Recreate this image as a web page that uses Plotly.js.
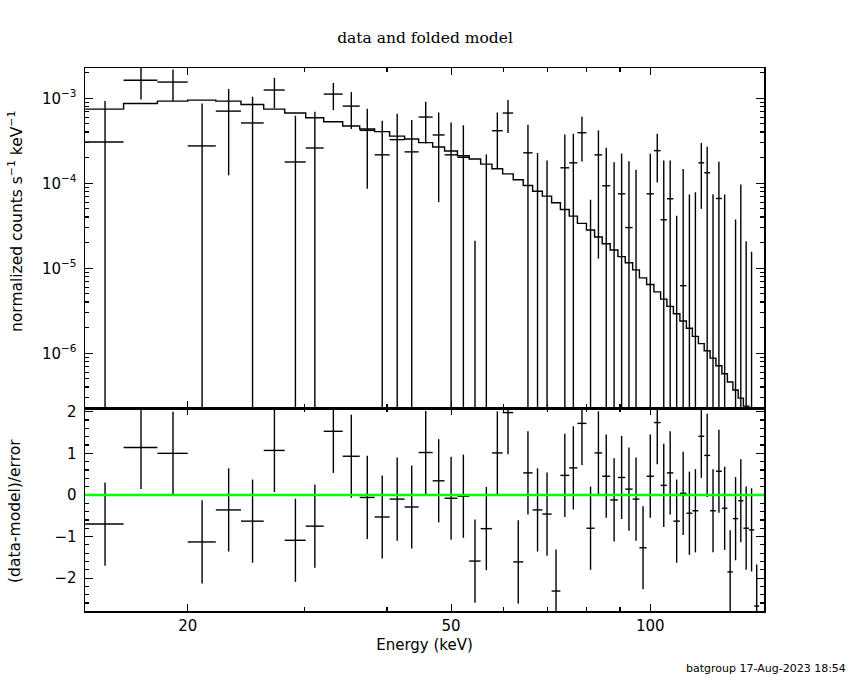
<!DOCTYPE html>
<html>
<head>
<meta charset="utf-8">
<script src="https://cdn.plot.ly/plotly-3.0.1.min.js"></script>
<style>
  body { margin: 0; background: #fff; }
  #plot { width: 850px; height: 680px; }
</style>
</head>
<body>
<div id="plot"></div>
<script>
// channel bin edges (keV)
const binEdges = [14.0, 16.0, 18.0, 20.0, 22.05, 24.07, 26.05, 28.03, 30.15, 32.1,
  34.29, 36.38, 38.32, 40.37, 42.53, 44.66, 46.89, 48.88, 51.11, 53.25,
  55.41, 57.63, 59.82, 62.06, 64.26, 66.39, 68.69, 70.93, 73.13, 75.41,
  77.59, 80.06, 82.37, 84.58, 86.97, 89.34, 91.64, 94.02, 96.27, 98.71,
  101.25, 103.63, 105.93, 108.35, 110.83, 113.36, 115.75, 118.2, 120.61, 123.11,
  125.62, 128.26, 130.74, 133.27, 135.75, 138.23, 140.9, 143.52, 146.04];

// normalized counts s^-1 keV^-1
const rate = [3.06e-4, 1.63e-3, 1.55e-3, 2.75e-4, 7.06e-4, 5.12e-4, 1.25e-3, 1.78e-4, 2.60e-4, 1.12e-3,
  8.09e-4, 4.19e-4, 2.16e-4, 3.26e-4, 2.34e-4, 6.01e-4, 3.70e-4, 2.16e-4, 2.02e-4, -2.70e-4,
  -3.95e-5, 4.15e-4, 6.70e-4, -2.91e-4, 2.28e-4, -1.6e-6, -2.70e-5, -4.21e-4, 1.52e-4, 1.74e-4,
  3.93e-4, -1.18e-4, 2.16e-4, 9.34e-5, -5.4e-6, 7.51e-5, 3.01e-5, -5.4e-6, -1.77e-4, 7.51e-5,
  2.42e-4, 3.72e-5, 6.57e-5, -6.24e-5, 6.24e-6, -5.41e-5, -4.58e-5, 1.74e-4, 1.33e-4, -4.37e-5,
  6.62e-5, -3.43e-5, -1.92e-4, -4.99e-5, -1.56e-5, -8.32e-5, -8.22e-5, -2.78e-4];

const rateErr = [6.24e-4, 6.66e-4, 6.24e-4, 5.93e-4, 5.82e-4, 5.30e-4, 4.89e-4, 4.45e-4, 4.34e-4, 3.95e-4,
  3.74e-4, 3.33e-4, 3.29e-4, 3.32e-4, 3.22e-4, 3.07e-4, 3.10e-4, 3.02e-4, 2.78e-4, 2.91e-4,
  2.57e-4, 2.65e-4, 2.81e-4, 2.50e-4, 2.60e-4, 2.29e-4, 2.12e-4, 2.08e-4, 2.22e-4, 2.08e-4,
  2.13e-4, 1.82e-4, 2.03e-4, 1.68e-4, 1.82e-4, 1.49e-4, 1.52e-4, 1.50e-4, 1.46e-4, 1.47e-4,
  1.40e-4, 1.48e-4, 1.20e-4, 1.04e-4, 1.41e-4, 1.28e-4, 1.24e-4, 1.24e-4, 1.36e-4, 1.18e-4,
  1.13e-4, 1.08e-4, 1.04e-4, 8.74e-5, 1.12e-4, 1.04e-4, 9.78e-5, 1.04e-4];

// folded model
const model = [7.46e-4, 8.68e-4, 9.26e-4, 9.52e-4, 9.26e-4, 8.44e-4, 7.46e-4, 6.70e-4, 5.91e-4, 5.29e-4,
  4.71e-4, 4.35e-4, 4.05e-4, 3.59e-4, 3.32e-4, 3.01e-4, 2.67e-4, 2.40e-4, 2.11e-4, 1.93e-4,
  1.68e-4, 1.48e-4, 1.29e-4, 1.10e-4, 9.42e-5, 8.07e-5, 7.05e-5, 5.91e-5, 4.92e-5, 4.11e-5,
  3.37e-5, 2.82e-5, 2.33e-5, 1.94e-5, 1.64e-5, 1.37e-5, 1.16e-5, 9.57e-6, 7.71e-6, 6.45e-6,
  5.28e-6, 4.34e-6, 3.56e-6, 2.92e-6, 2.40e-6, 1.97e-6, 1.58e-6, 1.30e-6, 1.07e-6, 8.76e-7,
  7.12e-7, 5.74e-7, 4.59e-7, 3.69e-7, 2.97e-7, 2.39e-7, 1.92e-7, 1.56e-7];

// (data-model)/error
const resid = [-0.70, 1.14, 1.00, -1.13, -0.36, -0.63, 1.07, -1.09, -0.75, 1.53,
  0.93, -0.06, -0.53, -0.10, -0.29, 1.02, 0.34, -0.08, -0.03, -1.59,
  -0.81, 1.01, 1.98, -1.61, 0.53, -0.36, -0.46, -2.31, 0.47, 0.65,
  1.72, -0.80, 1.01, 0.45, -0.12, 0.42, 0.14, -0.10, -1.27, 0.45,
  1.74, 0.23, 0.53, -0.63, 0.04, -0.44, -0.38, 1.41, 0.95, -0.38,
  0.57, -0.32, -1.85, -0.57, -0.14, -0.80, -0.84, -2.67];

const xTickVals = [20, 50, 100];
const xTickText = ['20', '50', '100'];
const xMinorVals = [30, 40, 60, 70, 80, 90];
const yTickVals = [1e-6, 1e-5, 1e-4, 1e-3];
const yTickText = ['10<sup>\u22126</sup>', '10<sup>\u22125</sup>', '10<sup>\u22124</sup>', '10<sup>\u22123</sup>'];
const residTickVals = [-2, -1, 0, 1, 2];
const residTickText = ['\u22122', '\u22121', '0', '1', '2'];

// minor log ticks 2..9 per decade
const yMinorVals = [];
for (let k = -7; k <= -3; k++) {
  for (let m = 2; m <= 9; m++) yMinorVals.push(m * Math.pow(10, k));
}

// crosses and step histogram as line segments
const LOW = 1e-12;
const dx = [], dy = [], rx = [], ry = [], mx = [], my = [];
for (let i = 0; i < rate.length; i++) {
  const lo = binEdges[i], hi = binEdges[i + 1], mid = (lo + hi) / 2;
  if (rate[i] > 0) { dx.push(lo, hi, null); dy.push(rate[i], rate[i], null); }
  const top = rate[i] + rateErr[i];
  if (top > 0) {
    dx.push(mid, mid, null);
    dy.push(Math.max(rate[i] - rateErr[i], LOW), top, null);
  }
  rx.push(lo, hi, null, mid, mid, null);
  ry.push(resid[i], resid[i], null, resid[i] - 1, resid[i] + 1, null);
  mx.push(lo, hi);
  my.push(model[i], model[i]);
}

const lineStyle = { color: '#000', width: 1.4 };
const traces = [
  { x: mx, y: my, xaxis: 'x2', yaxis: 'y2', mode: 'lines', line: lineStyle, hoverinfo: 'skip' },
  { x: dx, y: dy, xaxis: 'x2', yaxis: 'y2', mode: 'lines', line: lineStyle, connectgaps: false, hoverinfo: 'skip' },
  { x: rx, y: ry, xaxis: 'x', yaxis: 'y', mode: 'lines', line: lineStyle, connectgaps: false, hoverinfo: 'skip' }
];

const tickFont = { family: 'DejaVu Sans, sans-serif', size: 15, color: '#000' };
const splitAt = 203 / 543;
const xRange = [Math.log10(13.99), Math.log10(148.5)];

const baseAxis = {
  showline: true, linecolor: '#000', linewidth: 1.5, mirror: 'allticks',
  ticks: 'inside', tickcolor: '#000', tickwidth: 1.2, showgrid: false, zeroline: false,
  tickfont: tickFont
};

const layout = {
  width: 850, height: 680,
  margin: { l: 85, r: 86, t: 68, b: 69 },
  paper_bgcolor: '#fff', plot_bgcolor: '#fff',
  showlegend: false,
  title: {
    text: 'data and folded model',
    font: { family: 'DejaVu Serif, serif', size: 15.5, color: '#000' },
    x: 0.5, xanchor: 'center', y: 1 - 38 / 680, yanchor: 'middle', yref: 'container'
  },
  xaxis: Object.assign({}, baseAxis, {
    type: 'log', range: xRange, anchor: 'y',
    tickmode: 'array', tickvals: xTickVals, ticktext: xTickText, ticklen: 7,
    minor: { tickmode: 'array', tickvals: xMinorVals, ticks: 'inside', ticklen: 4, tickcolor: '#000', tickwidth: 1.2 },
    title: { text: 'Energy (keV)', font: tickFont, standoff: 6 }
  }),
  xaxis2: Object.assign({}, baseAxis, {
    type: 'log', range: xRange, anchor: 'y2', matches: 'x', showticklabels: false,
    tickmode: 'array', tickvals: xTickVals, ticklen: 7,
    minor: { tickmode: 'array', tickvals: xMinorVals, ticks: 'inside', ticklen: 4, tickcolor: '#000', tickwidth: 1.2 }
  }),
  yaxis: Object.assign({}, baseAxis, {
    domain: [0, splitAt], anchor: 'x', range: [-2.79, 2.09],
    tickmode: 'array', tickvals: residTickVals, ticktext: residTickText, ticklen: 8,
    ticklabelstandoff: 4,
    minor: { dtick: 0.2, tick0: 0, ticks: 'inside', ticklen: 4, tickcolor: '#000', tickwidth: 1.2 }
  }),
  yaxis2: Object.assign({}, baseAxis, {
    domain: [splitAt, 1], anchor: 'x2', type: 'log', range: [Math.log10(2.27e-7), Math.log10(2.27e-3)],
    tickmode: 'array', tickvals: yTickVals, ticktext: yTickText, ticklen: 8,
    ticklabelstandoff: 4,
    minor: { tickmode: 'array', tickvals: yMinorVals, ticks: 'inside', ticklen: 4, tickcolor: '#000', tickwidth: 1.2 }
  }),
  shapes: [
    { type: 'line', xref: 'x domain', yref: 'y', x0: 0, x1: 1, y0: 0, y1: 0,
      line: { color: '#00ff00', width: 2.5 } }
  ],
  annotations: [
    { text: 'normalized counts s<sup>\u22121</sup> keV<sup>\u22121</sup>', textangle: -90,
      xref: 'paper', yref: 'paper', x: -70 / 679, y: (611 - 222) / 543,
      xanchor: 'center', yanchor: 'middle', showarrow: false,
      font: { family: 'DejaVu Sans, sans-serif', size: 15.5, color: '#000' } },
    { text: '(data-model)/error', textangle: -90,
      xref: 'paper', yref: 'paper', x: -70 / 679, y: (611 - 511) / 543,
      xanchor: 'center', yanchor: 'middle', showarrow: false,
      font: { family: 'DejaVu Sans, sans-serif', size: 15.5, color: '#000' } },
    { text: 'batgroup 17-Aug-2023 18:54',
      xref: 'paper', yref: 'paper', x: (848 - 85) / 679, y: (611 - 668) / 543,
      xanchor: 'right', yanchor: 'middle', showarrow: false,
      font: { family: 'DejaVu Sans, sans-serif', size: 11, color: '#000' } }
  ]
};

Plotly.newPlot('plot', traces, layout, { staticPlot: true, displayModeBar: false });
</script>
</body>
</html>
